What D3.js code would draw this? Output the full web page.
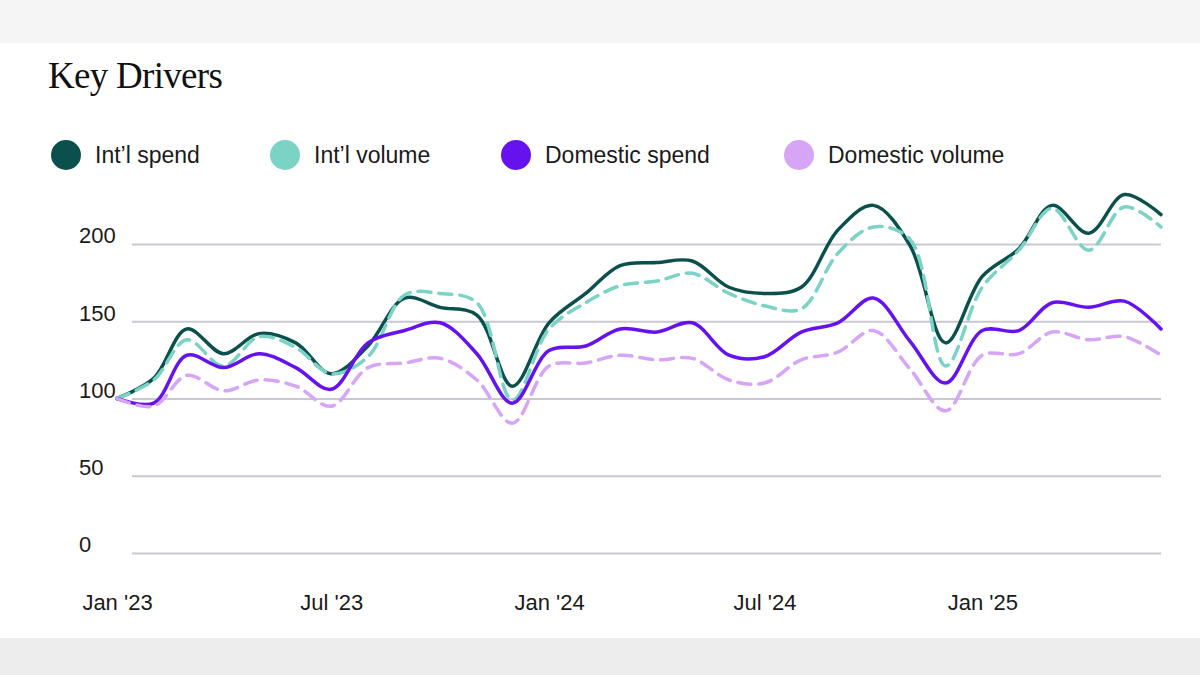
<!DOCTYPE html>
<html>
<head>
<meta charset="utf-8">
<script src="https://cdn.jsdelivr.net/npm/d3@7"></script>
<style>
    html, body { margin: 0; padding: 0; background: #fff; }
    svg { display: block; }
</style>
</head>
<body>
<script>
let width = 1200, height = 675;
let margin = {
    top: 244,
    right: 39,
    bottom: 122,
    left: 117
};

// months, Jan 2023 .. Jun 2025
let months = [
    '2023-01', '2023-02', '2023-03', '2023-04', '2023-05', '2023-06',
    '2023-07', '2023-08', '2023-09', '2023-10', '2023-11', '2023-12',
    '2024-01', '2024-02', '2024-03', '2024-04', '2024-05', '2024-06',
    '2024-07', '2024-08', '2024-09', '2024-10', '2024-11', '2024-12',
    '2025-01', '2025-02', '2025-03', '2025-04', '2025-05', '2025-06'
]
let intlSpend = [100, 113, 145, 129, 142, 136, 116, 134, 165, 159, 154, 108,
    149, 168, 186, 188, 189, 172, 168, 172, 209, 225, 199, 136,
    179, 197, 225, 207, 232, 219]
let intlVolume = [100, 112, 138, 121, 140, 133, 116, 127, 167, 168, 162, 99,
    145, 162, 173, 176, 181, 168, 160, 158, 194, 211, 203, 121,
    172, 196, 223, 196, 224, 211]
let domSpend = [100, 97, 128, 120, 129, 120, 106, 136, 144, 149, 129, 97,
    131, 134, 145, 143, 149, 128, 127, 143, 149, 165, 137, 110,
    144, 144, 162, 159, 163, 145]
let domVolume = [100, 95, 115, 105, 112, 108, 95, 120, 123, 126, 112, 84,
    121, 123, 128, 125, 126, 112, 110, 125, 130, 144, 119, 92,
    128, 129, 143, 138, 140, 128]

let seriesNames = ['Int\u2019l spend', 'Int\u2019l volume', 'Domestic spend', 'Domestic volume']
let seriesColors = ['#0c504d', '#7ad3c5', '#6512ee', '#d6a5f6']
let seriesDash = [null, '13,8', null, '13,8']
let yTicks = [0, 50, 100, 150, 200]
let xTicks = ['2023-01', '2023-07', '2024-01', '2024-07', '2025-01']

let parse = d3.timeParse('%Y-%m')
let allValues = [intlSpend, intlVolume, domSpend, domVolume]
let series = seriesNames.map((name, i) => ({
    name: name,
    color: seriesColors[i],
    dash: seriesDash[i],
    values: months.map((m, j) => ({ date: parse(m), v: allValues[i][j] }))
}))

let svg = d3
    .select('body').append('svg')
    .attr('width', width).attr('height', height)

// faint bands top and bottom, like the screenshot edges
svg.append('rect').attr('x', 0).attr('y', 0).attr('width', width).attr('height', 43).attr('fill', '#f5f5f6')
svg.append('rect').attr('x', 0).attr('y', 638).attr('width', width).attr('height', 37).attr('fill', '#ededee')

let x = d3.scaleTime()
    .domain(d3.extent(series[0].values, d => d.date))
    .range([margin.left, width - margin.right])
let y = d3.scaleLinear()
    .domain([0, 200])
    .range([height - margin.bottom, margin.top])

// title
svg.append('text')
    .attr('x', 48).attr('y', 88)
    .attr('font-family', '"Liberation Serif", "DejaVu Serif", serif')
    .attr('font-size', 37)
    .attr('letter-spacing', -0.7)
    .attr('fill', '#111')
    .text('Key Drivers')

// legend
let legendX = [66, 285, 516, 799]
let legend = svg.append('g')
    .selectAll('g').data(series).join('g')
    .attr('transform', (d, i) => `translate(${legendX[i]}, 155)`)
legend.append('circle').attr('r', 15).attr('fill', d => d.color)
legend.append('text')
    .attr('x', 29).attr('dy', '0.35em')
    .attr('font-family', '"Liberation Sans", Arial, sans-serif')
    .attr('font-size', 23)
    .attr('fill', '#1a1a1a')
    .text(d => d.name)

// y axis: gridlines + labels
let yAxis = g => g
    .attr('transform', `translate(132, 0)`)
    .call(d3.axisLeft(y).tickValues(yTicks).tickSize(0).tickPadding(0))
    .call(g => g.select('.domain').remove())
    .call(g => g.selectAll('.tick line').clone()
        .attr('x2', width - margin.right - 132)
        .attr('stroke', '#c9c7d1')
        .attr('stroke-width', 2))
    .call(g => g.selectAll('.tick text')
        .attr('x', -53).attr('dy', '-0.05em')
        .attr('text-anchor', 'start')
        .attr('font-family', '"Liberation Sans", Arial, sans-serif')
        .attr('font-size', 22)
        .attr('fill', '#1a1a1a'))
svg.append('g').call(yAxis)

// x axis labels only
let fmt = d3.timeFormat("%b '%y")
let xAxis = g => g
    .attr('transform', `translate(0, 602)`)
    .call(d3.axisBottom(x).tickValues(xTicks.map(parse)).tickSize(0).tickPadding(0).tickFormat(fmt))
    .call(g => g.select('.domain').remove())
    .call(g => g.selectAll('.tick text')
        .attr('dy', '0.35em')
        .attr('font-family', '"Liberation Sans", Arial, sans-serif')
        .attr('font-size', 22)
        .attr('fill', '#1a1a1a'))
svg.append('g').call(xAxis)

// lines
let line = d3.line()
    .x(d => x(d.date))
    .y(d => y(d.v))
    .curve(d3.curveCatmullRom.alpha(0.5))

svg.append('g')
    .selectAll('path').data(series).join('path')
    .attr('fill', 'none')
    .attr('stroke', d => d.color)
    .attr('stroke-width', 3.5)
    .attr('stroke-linecap', 'round')
    .attr('stroke-dasharray', d => d.dash)
    .attr('d', d => line(d.values))
</script>
</body>
</html>
